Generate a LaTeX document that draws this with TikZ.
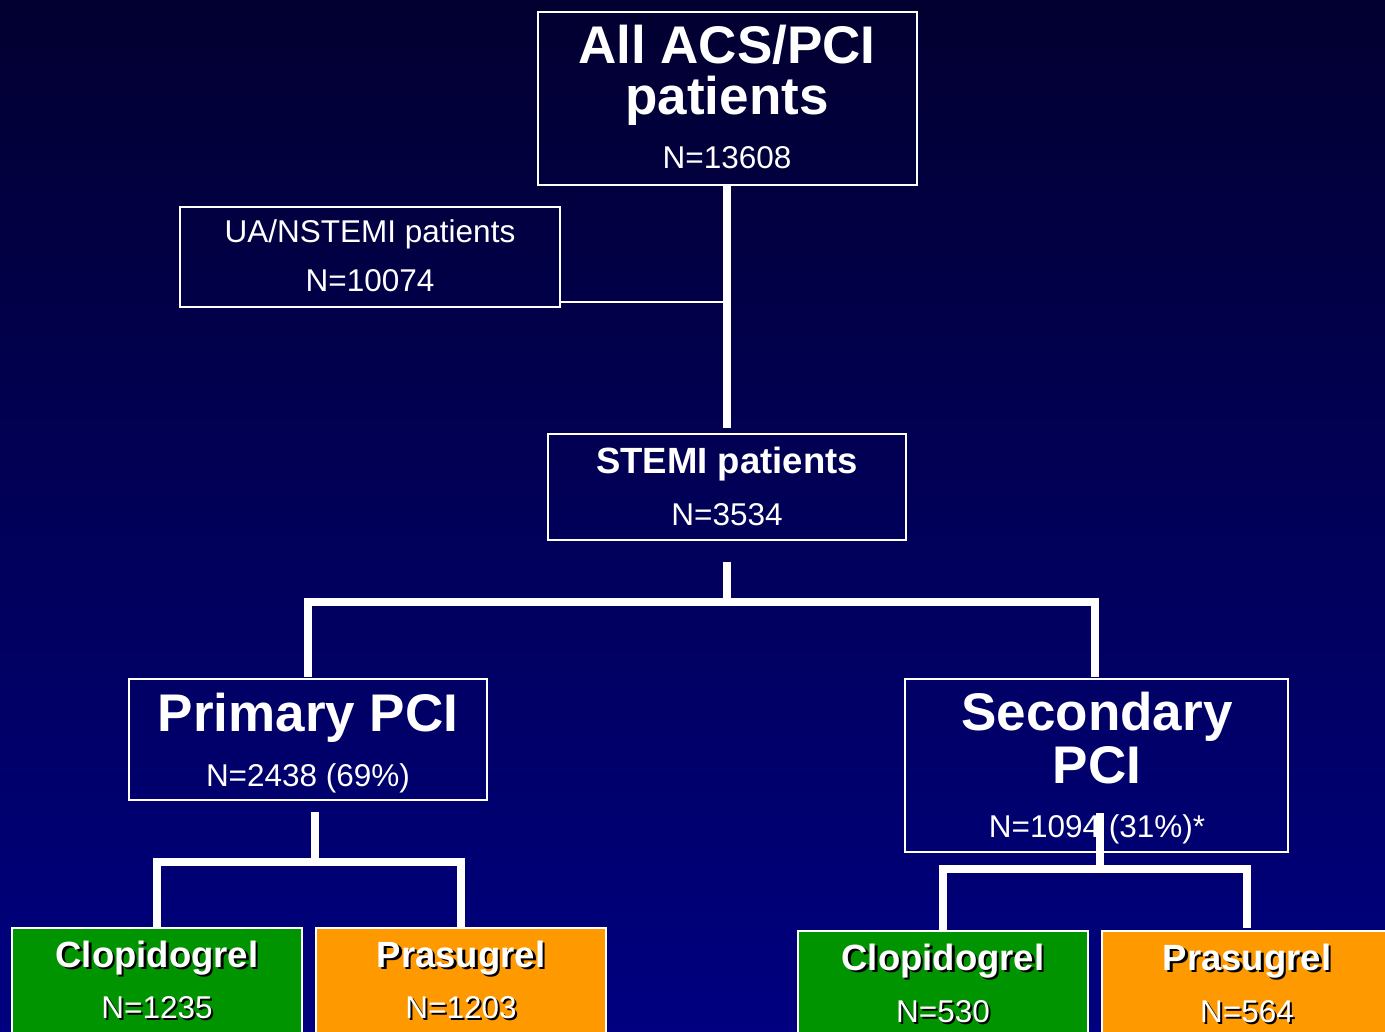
\documentclass[tikz,border=0pt]{standalone}
\usepackage{fontspec}
\setmainfont{Liberation Sans}
\definecolor{bgtop}{RGB}{2,0,48}
\definecolor{bgbot}{RGB}{0,0,128}
\definecolor{grn}{RGB}{0,148,0}
\definecolor{org}{RGB}{255,153,0}
\tikzset{
  box/.style={draw=white, line width=2pt, inner sep=0pt},
  gbox/.style={box, fill=grn},
  obox/.style={box, fill=org},
  big/.style={anchor=base, text=white, inner sep=0pt, font=\fontsize{53}{53}\selectfont\bfseries},
  mid/.style={anchor=base, text=white, inner sep=0pt, font=\fontsize{36.5}{36.5}\selectfont\bfseries},
  reg/.style={anchor=base, text=white, inner sep=0pt, font=\fontsize{31.5}{31.5}\selectfont},
  shd/.style={text=black},
  thickline/.style={draw=white, line width=8pt},
  thinline/.style={draw=white, line width=2pt},
}
\begin{document}
\begin{tikzpicture}[x=1pt,y=-1pt]
\useasboundingbox (0,0) rectangle (1385,1032);
\clip (0,0) rectangle (1385,1032);
\shade[top color=bgtop, bottom color=bgbot] (0,0) rectangle (1385,1032);

% boxes
\node[box, minimum width=379, minimum height=173] (top) at (727.5,98.5) {};
\node[box, minimum width=380, minimum height=100] (ua) at (370,257) {};
\node[box, minimum width=358, minimum height=106] (stemi) at (727,487) {};
\node[box, minimum width=358, minimum height=121] (prim) at (308,739.5) {};
\node[box, minimum width=383, minimum height=173] (sec) at (1096.5,765.5) {};
\node[gbox, minimum width=290, minimum height=112] (c1) at (157,984) {};
\node[obox, minimum width=290, minimum height=112] (p1) at (461,984) {};
\node[gbox, minimum width=290, minimum height=112] (c2) at (943,987) {};
\node[obox, minimum width=290, minimum height=112] (p2) at (1247,987) {};

% texts
\node[big] (t1) at (727,64) {All ACS/PCI};
\node[big] (t2) at (727,115) {patients};
\node[reg] (t3) at (727,169) {N=13608};
\node[reg] (u1) at (370,243) {UA/NSTEMI patients};
\node[reg] (u2) at (370,292) {N=10074};
\node[mid] (s1) at (727,473) {STEMI patients};
\node[reg] (s2) at (727,525) {N=3534};
\node[big] (pp1) at (308,731) {Primary PCI};
\node[reg] (pp2) at (308,786) {N=2438 (69\%)};
\node[big] (sp1) at (1097,730) {Secondary};
\node[big] (sp2) at (1097,783) {PCI};
\node[reg] (sp3) at (1097,837) {N=1094 (31\%)*};

\node[mid, shd] (c1ts) at (159.5,969.5) {Clopidogrel};
\node[mid] (c1t) at (157,967) {Clopidogrel};
\node[reg, shd] (c1ns) at (159,1020) {N=1235};
\node[reg] (c1n) at (157,1018) {N=1235};
\node[mid, shd] (p1ts) at (463.5,969.5) {Prasugrel};
\node[mid] (p1t) at (461,967) {Prasugrel};
\node[reg, shd] (p1ns) at (463,1020) {N=1203};
\node[reg] (p1n) at (461,1018) {N=1203};
\node[mid, shd] (c2ts) at (945.5,972.5) {Clopidogrel};
\node[mid] (c2t) at (943,970) {Clopidogrel};
\node[reg, shd] (c2ns) at (945,1024) {N=530};
\node[reg] (c2n) at (943,1022) {N=530};
\node[mid, shd] (p2ts) at (1249.5,972.5) {Prasugrel};
\node[mid] (p2t) at (1247,970) {Prasugrel};
\node[reg, shd] (p2ns) at (1249,1024) {N=564};
\node[reg] (p2n) at (1247,1022) {N=564};

% connector coordinates
\coordinate (a1) at (727,428);
\coordinate (uaR) at (561,302);
\coordinate (uaM) at (724,302);
\coordinate (b0) at (727,562);
\coordinate (b1) at (727,602);
\coordinate (bl) at (308,602);
\coordinate (br) at (1095,602);
\coordinate (bld) at (308,677);
\coordinate (brd) at (1095,677);
\coordinate (pc0) at (315,812);
\coordinate (pc1) at (315,862);
\coordinate (pcl) at (157,862);
\coordinate (pcr) at (461,862);
\coordinate (pcld) at (157,928);
\coordinate (pcrd) at (461,928);
\coordinate (sc0) at (1100,813);
\coordinate (sc1) at (1100,869);
\coordinate (scl) at (943,869);
\coordinate (scr) at (1247,869);
\coordinate (scld) at (943,930);
\coordinate (scrd) at (1247,928);

% connectors
\draw[thickline] (top.south -| a1) -- (a1);
\draw[thinline] (uaR) -- (uaM);
\draw[thickline] (b0) -- (b1);
\draw[thickline] (bld) -- (bl) -- (br) -- (brd);
\draw[thickline] (pc0) -- (pc1);
\draw[thickline] (pcld) -- (pcl) -- (pcr) -- (pcrd);
\draw[thickline] (sc0) -- (sc1);
\draw[thickline] (scld) -- (scl) -- (scr) -- (scrd);
\end{tikzpicture}
\end{document}
